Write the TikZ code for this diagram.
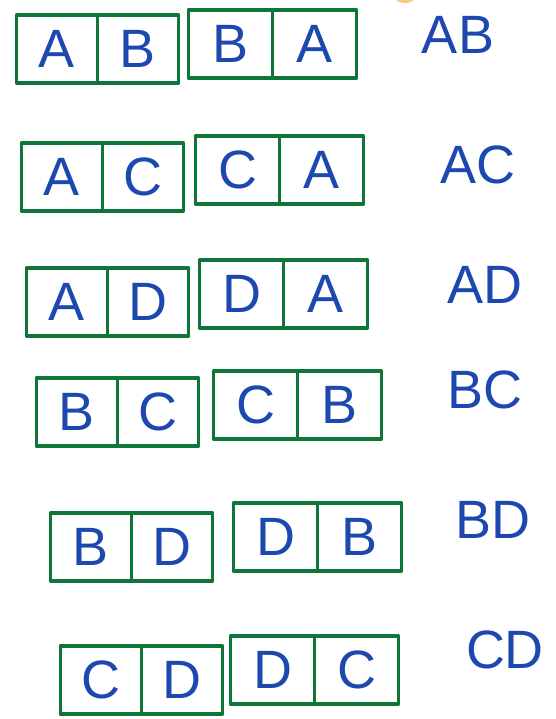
\documentclass[tikz,border=0pt]{standalone}
\usepackage{fontspec}
\setmainfont{Liberation Sans}
\usepackage{tikz}
\usetikzlibrary{positioning}
\definecolor{penGreen}{RGB}{14, 118, 56}
\definecolor{penBlue}{RGB}{28, 72, 176}
\definecolor{penOrange}{RGB}{250, 200, 120}

\tikzset{
  cell/.style={draw=penGreen, line width=3.5pt, line join=round, inner sep=0pt,
    outer sep=0pt, minimum width=81pt, minimum height=68pt, text=penBlue,
    font=\fontsize{54}{54}\selectfont},
  widecell/.style={cell, minimum width=84pt},
  pairname/.style={text=penBlue, inner sep=0pt, font=\fontsize{54}{54}\selectfont}
}

\begin{document}
\begin{tikzpicture}[x=1pt, y=-1pt]
    \useasboundingbox (0,0) rectangle (555,719);

    % stray mark at the top edge
    \fill[penOrange] (405,-3) ellipse (10 and 6);

    % row AB
    \node[cell] (ab1) at (57,49) {A};
    \node[cell, right=0pt of ab1] (ab2) {B};
    \node[widecell, right=10pt of ab2, yshift=5pt] (ab3) {B};
    \node[widecell, right=0pt of ab3] (ab4) {A};
    \node[pairname] (labAB) at (458,35) {AB};

    % row AC
    \node[cell] (ac1) at (62,177) {A};
    \node[cell, right=0pt of ac1] (ac2) {C};
    \node[widecell, right=12pt of ac2, yshift=7pt] (ac3) {C};
    \node[widecell, right=0pt of ac3] (ac4) {A};
    \node[pairname] (labAC) at (478,165) {AC};

    % row AD
    \node[cell] (ad1) at (67,302) {A};
    \node[cell, right=0pt of ad1] (ad2) {D};
    \node[widecell, right=11pt of ad2, yshift=8pt] (ad3) {D};
    \node[widecell, right=0pt of ad3] (ad4) {A};
    \node[pairname] (labAD) at (485,285) {AD};

    % row BC
    \node[cell] (bc1) at (77,412) {B};
    \node[cell, right=0pt of bc1] (bc2) {C};
    \node[widecell, right=15pt of bc2, yshift=7pt] (bc3) {C};
    \node[widecell, right=0pt of bc3] (bc4) {B};
    \node[pairname] (labBC) at (485,390) {BC};

    % row BD
    \node[cell] (bd1) at (91,547) {B};
    \node[cell, right=0pt of bd1] (bd2) {D};
    \node[widecell, right=21pt of bd2, yshift=10pt] (bd3) {D};
    \node[widecell, right=0pt of bd3] (bd4) {B};
    \node[pairname] (labBD) at (493,520) {BD};

    % row CD
    \node[cell] (cd1) at (101,680) {C};
    \node[cell, right=0pt of cd1] (cd2) {D};
    \node[widecell, right=8pt of cd2, yshift=10pt] (cd3) {D};
    \node[widecell, right=0pt of cd3] (cd4) {C};
    \node[pairname] (labCD) at (505,650) {CD};
\end{tikzpicture}
\end{document}
